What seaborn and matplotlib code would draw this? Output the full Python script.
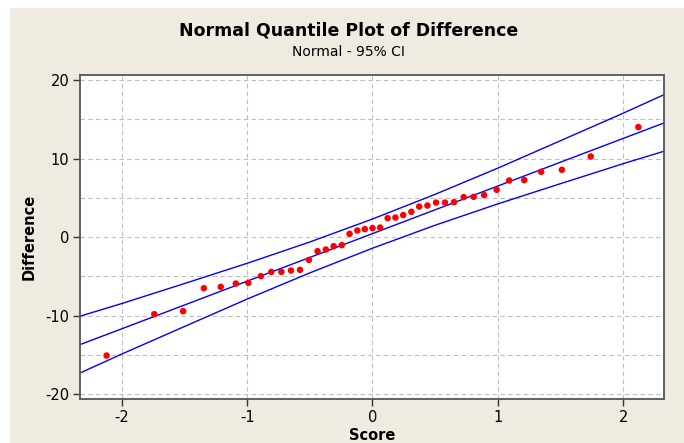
import matplotlib
matplotlib.use("Agg")
import matplotlib.pyplot as plt
import seaborn as sns
from matplotlib.patches import Rectangle
from matplotlib.ticker import MultipleLocator

sns.set_style("white")
plt.rcParams["font.family"] = ["DejaVu Sans"]
plt.rcParams["axes.unicode_minus"] = False
plt.rcParams["text.color"] = "black"
plt.rcParams["axes.labelcolor"] = "black"
plt.rcParams["xtick.color"] = "black"
plt.rcParams["ytick.color"] = "black"

# normal scores and the ordered differences
scores = [-2.12, -1.74, -1.51, -1.345, -1.21, -1.09, -0.99, -0.89, -0.807, -0.727,
          -0.65, -0.578, -0.507, -0.438, -0.372, -0.31, -0.245, -0.183, -0.121, -0.061,
          0.0, 0.061, 0.121, 0.183, 0.245, 0.31, 0.372, 0.438, 0.507, 0.578,
          0.65, 0.727, 0.807, 0.89, 0.99, 1.09, 1.21, 1.345, 1.51, 1.74, 2.12]
difference = [-15.1, -9.82, -9.44, -6.51, -6.34, -5.92, -5.83, -4.97, -4.43, -4.43,
              -4.26, -4.17, -2.9, -1.79, -1.58, -1.15, -1.02, 0.42, 0.84, 1.02,
              1.15, 1.22, 2.42, 2.5, 2.81, 3.23, 3.9, 4.03, 4.41, 4.41,
              4.46, 5.1, 5.14, 5.36, 6.03, 7.22, 7.27, 8.33, 8.58, 10.28, 14.03]

# fitted line and 95% CI bands, read at a few scores
line_score = [-2.33, -2.0, -1.5, -1.0, -0.5, 0.0, 0.5, 1.0, 1.5, 2.0, 2.32]
fit_line = [-13.69, -11.69, -8.66, -5.62, -2.59, 0.45, 3.49, 6.52, 9.56, 12.59, 14.53]
upper_ci = [-10.07, -8.47, -5.92, -3.34, -0.62, 2.31, 5.46, 8.80, 12.30, 15.81, 18.13]
lower_ci = [-17.31, -14.91, -11.40, -7.90, -4.56, -1.41, 1.52, 4.24, 6.82, 9.37, 10.93]

fig = plt.figure(figsize=(6.84, 4.43), dpi=100)
fig.patch.set_facecolor("white")
fig.add_artist(Rectangle((10 / 684, 0), 1, 1 - 8 / 443, transform=fig.transFigure,
                         facecolor="#EFEBE1", edgecolor="none", zorder=-10))

ax = fig.add_axes([0.1174, 0.100, 0.8529, 0.7314])
ax.set_facecolor("white")

for band in (fit_line, upper_ci, lower_ci):
    sns.lineplot(x=line_score, y=band, color="#0000FF", lw=1.0, sort=False, ax=ax)
sns.scatterplot(x=scores, y=difference, color="#FF0000", s=22, edgecolor="none",
                ax=ax, zorder=3)

ax.set_xlim(-2.33, 2.322)
ax.set_ylim(-20.6, 20.71)
ax.set_xticks([-2, -1, 0, 1, 2])
ax.set_yticks([-20, -10, 0, 10, 20])
ax.yaxis.set_minor_locator(MultipleLocator(5))
ax.grid(True, which="both", axis="y", ls=(0, (4, 3)), color="#BEBEBE", lw=0.8)
ax.grid(True, which="major", axis="x", ls=(0, (4, 3)), color="#BEBEBE", lw=0.8)
ax.set_axisbelow(True)
ax.tick_params(which="minor", length=0)
ax.tick_params(which="major", direction="out", length=5, width=1, color="#333333",
               labelsize=10.5, left=True, bottom=True, pad=3)
for s in ax.spines.values():
    s.set_color("#555555")
    s.set_linewidth(1.3)

ax.set_xlabel("Score", fontsize=10.5, fontweight="bold", labelpad=2)
ax.set_ylabel("Difference", fontsize=10.5, fontweight="bold", labelpad=6)

fig.text(0.509, 1 - 31 / 443, "Normal Quantile Plot of Difference", ha="center",
         va="center", fontsize=12.5, fontweight="bold")
fig.text(0.509, 1 - 52 / 443, "Normal - 95% CI", ha="center", va="center", fontsize=10)

fig.savefig("out.png", dpi=100)
